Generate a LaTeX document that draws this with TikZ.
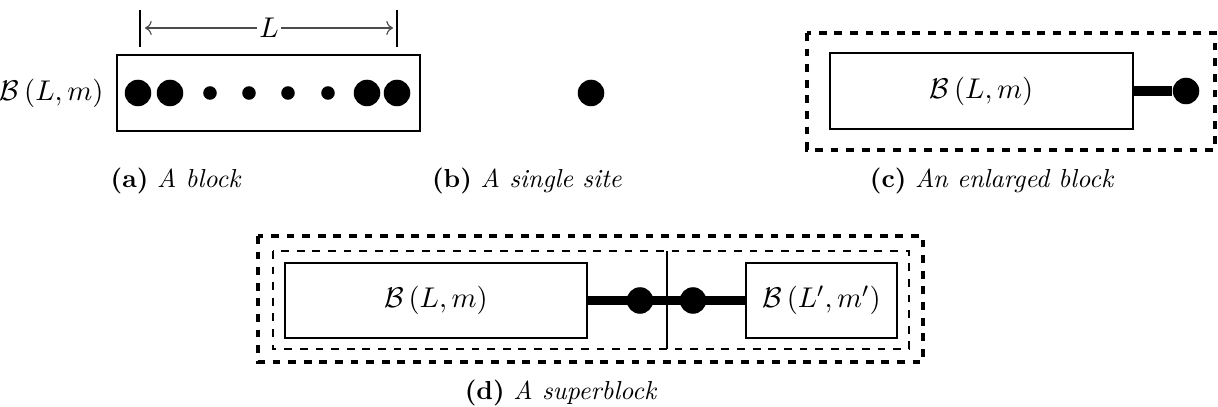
\RequirePackage{fix-cm}
\documentclass[tikz,border=0pt]{standalone}
\usetikzlibrary{arrows.meta}
\def\pxu{0.3843pt}
\tikzset{
  box/.style={draw, line width=0.45pt, rectangle, inner sep=0pt, font=\mathsize},
  mathlabel/.style={inner sep=0pt, font=\mathsize},
  bigdot/.style={circle, fill=black, inner sep=0pt, minimum size=10.2pt},
  smalldot/.style={circle, fill=black, inner sep=0pt, minimum size=5.2pt},
  bond/.style={line width=3.8pt},
  outerframe/.style={line width=1.6pt, dashed},
  innerframe/.style={line width=0.6pt, dashed},
  caption/.style={anchor=base, inner sep=0pt, font=\capsize},
}
\newcommand{\mathsize}{\fontsize{10.95}{13.6}\selectfont}
\newcommand{\capsize}{\fontsize{10}{12}\selectfont}
\newcommand{\subcap}[2]{\textbf{(#1)}~\textit{#2}}
\begin{document}
\begin{tikzpicture}[x=0.3843pt, y=-0.3843pt]
  \useasboundingbox (0,0) rectangle (1218,407);

  % (a) a block of L sites
  \node[box, minimum width=303*\pxu, minimum height=76*\pxu] (blockA) at (268.5,93) {};
  \node[mathlabel, anchor=east] (labA) at (104,93) {$\mathcal{B}\left(L,m\right)$};
  \node[bigdot] (a1) at (138,93) {};
  \node[bigdot] (a2) at (170,93) {};
  \node[smalldot] (a3) at (210,93) {};
  \node[smalldot] (a4) at (249,93) {};
  \node[smalldot] (a5) at (288,93) {};
  \node[smalldot] (a6) at (328,93) {};
  \node[bigdot] (a7) at (367,93) {};
  \node[bigdot] (a8) at (397,93) {};
  \coordinate (tl1) at (140,10);
  \coordinate (tl2) at (140,47);
  \coordinate (tr1) at (397,10);
  \coordinate (tr2) at (397,47);
  \draw[line width=0.45pt] (tl1) -- (tl2);
  \draw[line width=0.45pt] (tr1) -- (tr2);
  \coordinate (arL) at (145,28);
  \coordinate (arR) at (393,28);
  \draw[line width=0.45pt, black!70, <->] (arL) -- node[mathlabel, fill=white, inner sep=1pt, text=black] (lenL) {$L$} (arR);
  \node[caption] (capA) at (176,188) {\subcap{a}{A block}};

  % (b) a single site
  \node[bigdot] (site) at (591,93) {};
  \node[caption] (capB) at (527,188) {\subcap{b}{A single site}};

  % (c) an enlarged block
  \coordinate (cOa) at (807,33);
  \coordinate (cOb) at (1215,150);
  \draw[outerframe] (cOa) rectangle (cOb);
  \node[box, minimum width=303*\pxu, minimum height=76*\pxu] (blockC) at (981.5,91) {$\mathcal{B}\left(L,m\right)$};
  \node[bigdot] (c1) at (1186,91) {};
  \draw[bond] (blockC.east) -- (c1);
  \node[caption] (capC) at (992,188) {\subcap{c}{An enlarged block}};

  % (d) a superblock
  \coordinate (dOa) at (258,236);
  \coordinate (dOb) at (923,362);
  \draw[outerframe] (dOa) rectangle (dOb);
  \coordinate (dIa) at (273,251);
  \coordinate (dIb) at (909,349);
  \draw[innerframe] (dIa) rectangle (dIb);
  \coordinate (divT) at (667,251);
  \coordinate (divB) at (667,349);
  \draw[line width=0.6pt] (divT) -- (divB);
  \node[box, minimum width=302*\pxu, minimum height=75*\pxu] (blockL) at (436,300.5) {$\mathcal{B}\left(L,m\right)$};
  \node[box, minimum width=151*\pxu, minimum height=75*\pxu] (blockR) at (821.5,300.5) {$\mathcal{B}\left(L',m'\right)$};
  \node[bigdot] (d1) at (640,300.5) {};
  \node[bigdot] (d2) at (693,300.5) {};
  \draw[bond] (blockL.east) -- (d1.center) -- (d2.center) -- (blockR.west);
  \node[caption] (capD) at (561,400) {\subcap{d}{A superblock}};
\end{tikzpicture}
\end{document}
